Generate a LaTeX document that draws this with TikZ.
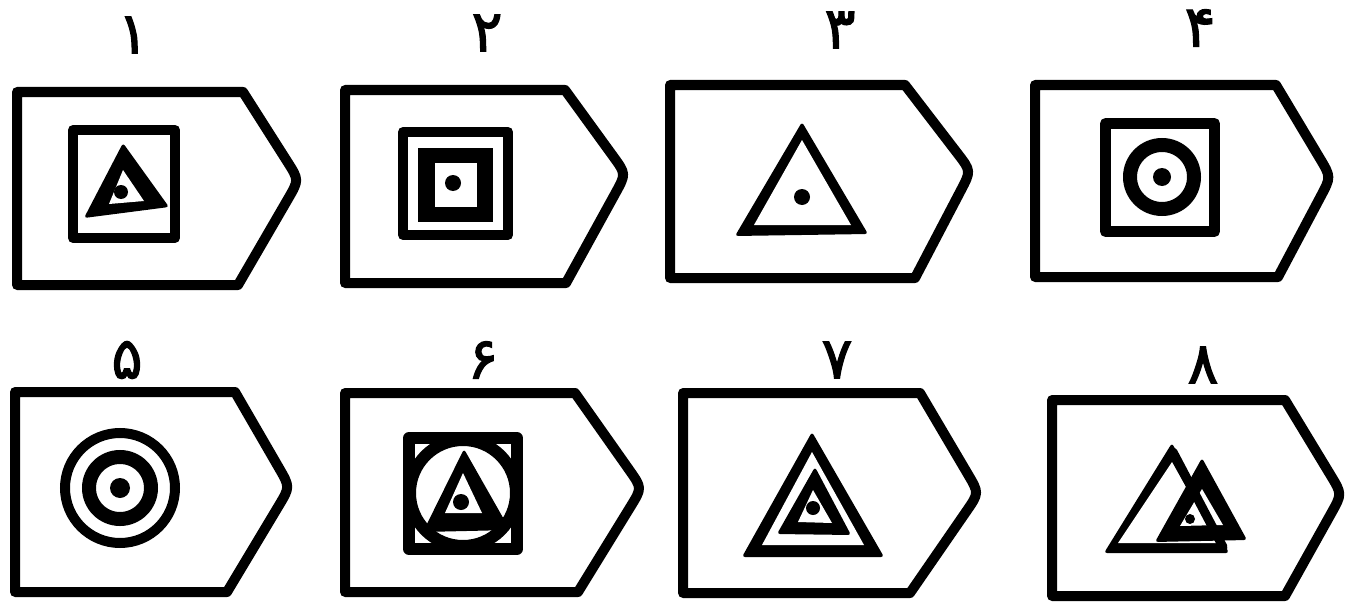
\documentclass[tikz,border=0pt]{standalone}
\usepackage{fontspec}
\usetikzlibrary{calc}
\newfontfamily\fa[Script=Arabic,FakeBold=2]{DejaVu Sans}
\TeXXeTstate=1
\tikzset{
  tag/.style={line width=10pt, line join=round},
  frame/.style={line width=#1, line join=round},
  frame/.default=10pt,
  lbl/.style={font=\fa\fontsize{58}{60}\selectfont, inner sep=0pt},
  blk/.style={fill=black, rounded corners=3pt},
  wht/.style={fill=white}
}
% #1 left, #2 top, #3 top corner x, #4 tip x, #5 tip y, #6 bottom corner x, #7 bottom
\newcommand\mytag[7]{%
  \draw[tag] (#1,#2) -- (#3,#2) -- ($(#4,#5)!22pt!(#3,#2)$)
    .. controls (#4,#5) .. ($(#4,#5)!22pt!(#6,#7)$) -- (#6,#7) -- (#1,#7) -- cycle;}
\begin{document}
\begin{tikzpicture}[x=1pt,y=-1pt]
\useasboundingbox (0,0) rectangle (1355,602);
% ---------- tags ----------
\mytag{17}{92}{243}{299}{180}{238}{285}
\mytag{345}{90}{565}{626}{174}{566}{283}
\mytag{670}{85}{905}{971}{171}{915}{278}
\mytag{1035}{85}{1276}{1331}{177}{1278}{277}
\mytag{15}{392}{235}{290}{487}{227}{592}
\mytag{345}{393}{575}{642}{488}{578}{592}
\mytag{683}{393}{920}{979}{493}{910}{593}
\mytag{1052}{400}{1285}{1342}{494}{1285}{596}
% ---------- labels ----------
\node[lbl] (n1) at (133,35) {۱};
\node[lbl] (n2) at (487,33) {۲};
\node[lbl] (n3) at (840,30) {۳};
\node[lbl] (n4) at (1200,28) {۴};
\node[lbl] (n5) at (127,360) {۵};
\node[lbl] (n6) at (483,360) {۶};
\node[lbl] (n7) at (837,360) {۷};
\node[lbl] (n8) at (1203,365) {۸};
% ---------- 1 ----------
\draw[frame] (73,130) rectangle (175,238);
\fill[blk] (123,143) -- (84,218) -- (169,207) -- cycle;
\fill[wht] (123,170) -- (109,204) -- (144,201) -- cycle;
\fill (121,192) circle[radius=7pt];
% ---------- 2 ----------
\draw[frame] (403,132) rectangle (508,235);
\fill (418,148) rectangle (493,222);
\fill[wht] (435,163) rectangle (477,207);
\fill (453,183) circle[radius=8pt];
% ---------- 3 ----------
\fill[blk] (802,122) -- (735,236) -- (868,234) -- cycle;
\fill[wht] (802,140) -- (754,225) -- (851,225) -- cycle;
\fill (802,197) circle[radius=8pt];
% ---------- 4 ----------
\draw[frame=11pt] (1105.5,123.5) rectangle (1214.5,231.5);
\draw[line width=14pt] (1162,177) circle[radius=32pt];
\fill (1162,177) circle[radius=9pt];
% ---------- 5 ----------
\draw[line width=10pt] (120,488) circle[radius=55pt];
\draw[line width=14pt] (120,488) circle[radius=31pt];
\fill (120,488) circle[radius=10pt];
% ---------- 6 ----------
\draw[frame=12pt] (409,438) rectangle (517,549);
\draw[line width=12pt] (463,493) circle[radius=53pt];
\fill[blk] (464,449) -- (423,532) -- (510,530) -- cycle;
\fill[wht] (463,473) -- (445,513) -- (482,513) -- cycle;
\fill (461,502) circle[radius=8pt];
% ---------- 7 ----------
\fill[blk] (812,432) -- (742,557) -- (884,557) -- cycle;
\fill[wht] (812,452) -- (762,545) -- (864,545) -- cycle;
\fill[blk] (815,467) -- (777,534) -- (851,535) -- cycle;
\fill[wht] (813,490) -- (798,522) -- (832,523) -- cycle;
\fill (813,508) circle[radius=7pt];
% ---------- 8 ----------
\fill[blk] (1172,443) -- (1104,553) -- (1229,553) -- cycle;
\fill[wht] (1172,462) -- (1118,543) -- (1217,543) -- cycle;
\fill[blk] (1202,458) -- (1155,542) -- (1247,540) -- cycle;
\fill[wht] (1202,489) -- (1180,526) -- (1223,525) -- cycle;
\draw[line width=9pt, line cap=round] (1173,452) -- (1223,547);
\fill (1190,519) circle[radius=5pt];
\end{tikzpicture}
\end{document}
